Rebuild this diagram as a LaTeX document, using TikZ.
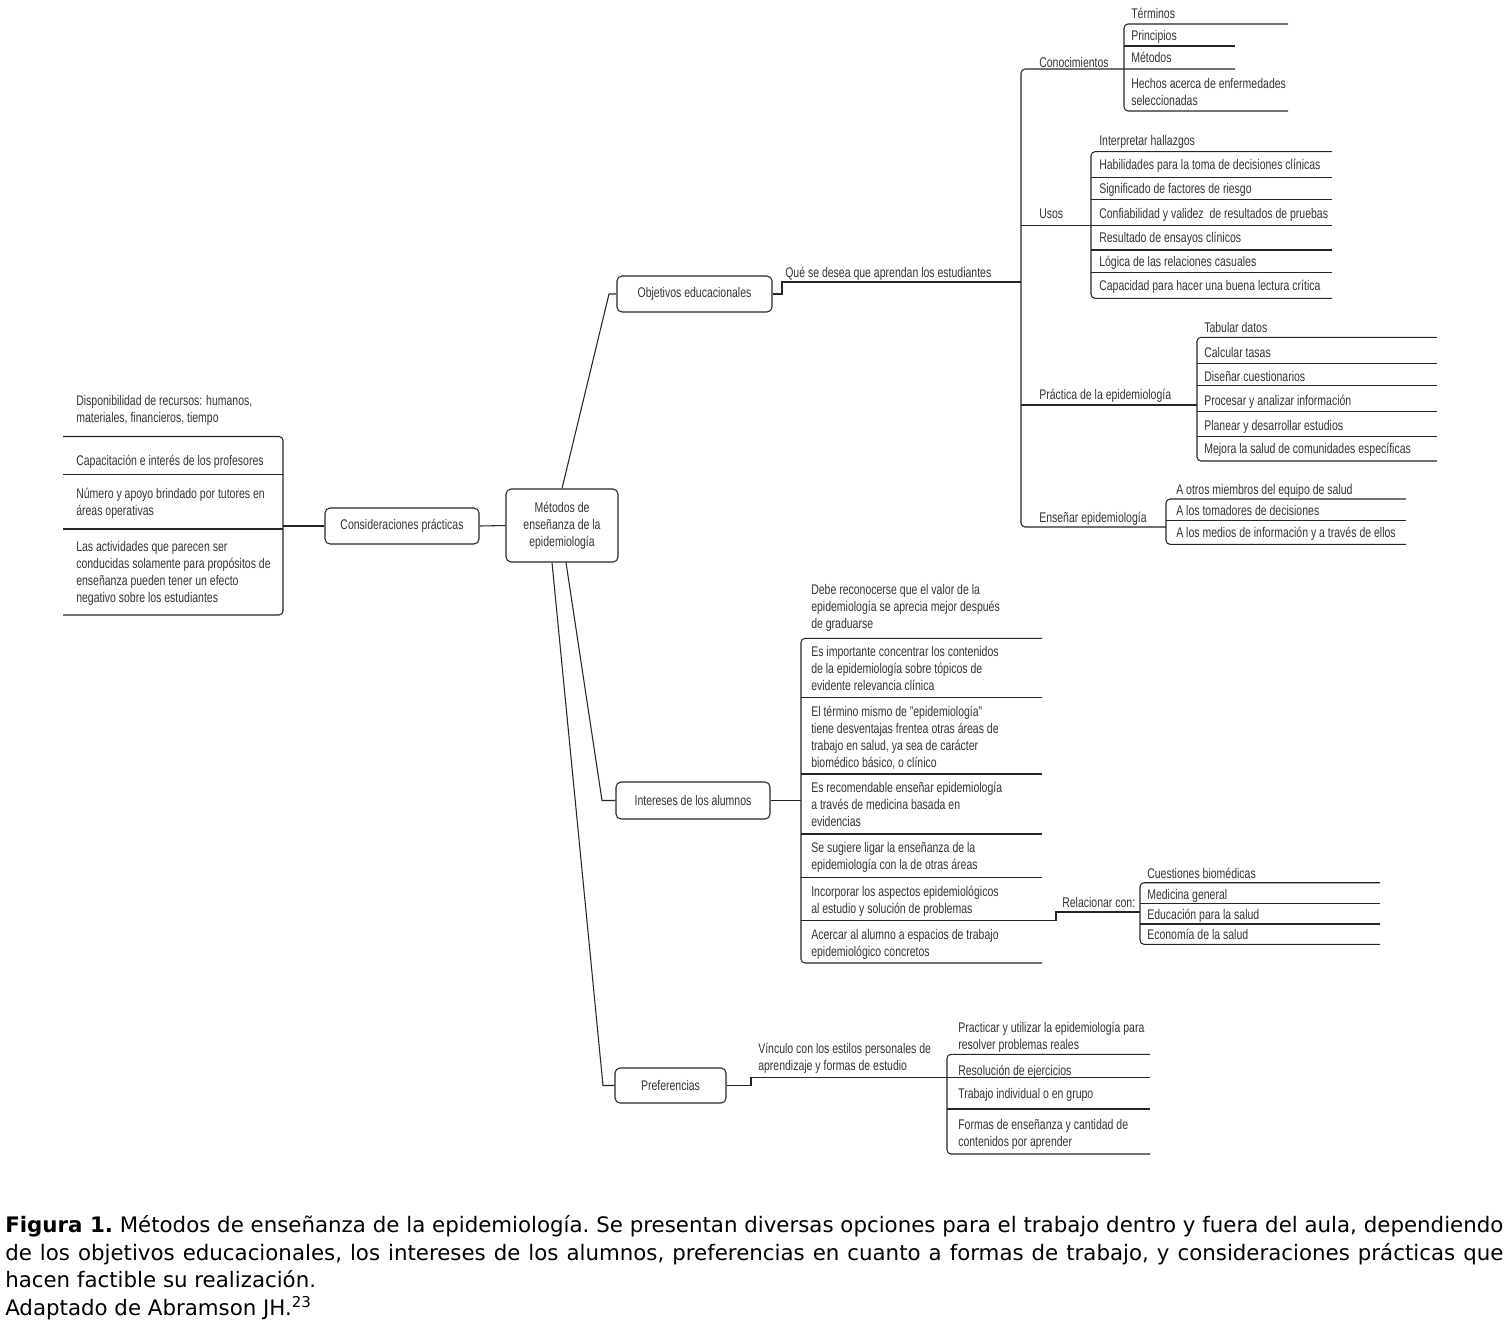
\documentclass[tikz,border=0pt]{standalone}
\usepackage{fontspec}
\setmainfont{Liberation Sans}[FakeStretch=0.75]
\newfontfamily\capfont{DejaVu Sans}
\begin{document}
\begin{tikzpicture}[x=0.75pt,y=-0.75pt,
    every node/.style={font=\fontsize{10.5}{12.75}\selectfont,text=black!80},
    box/.style={draw=black!85,line width=0.8pt,rounded corners=3.75pt,align=center,inner sep=0pt},
    entry/.style={anchor=base west,inner sep=0pt,align=left},
    wire/.style={draw=black!85,line width=0.8pt},
    bracket/.style={wire,rounded corners=3pt}]
\useasboundingbox (0,0) rectangle (1508,1332);

\node[box,minimum width=112*0.75pt,minimum height=73*0.75pt] (cen) at (562,525.5) {Métodos de\\enseñanza de la\\epidemiología};
\node[box,minimum width=154*0.75pt,minimum height=36*0.75pt] (cons) at (402,526) {Consideraciones prácticas};
\node[box,minimum width=155*0.75pt,minimum height=36*0.75pt] (obj) at (694.5,294) {Objetivos educacionales};
\node[box,minimum width=154*0.75pt,minimum height=37*0.75pt] (int) at (693,800.5) {Intereses de los alumnos};
\node[box,minimum width=111*0.75pt,minimum height=35*0.75pt] (pref) at (670.5,1085.5) {Preferencias};

\coordinate (kobj) at (609,294);
\coordinate (kint) at (602,800.5);
\coordinate (kpref) at (603,1085.5);
\draw[wire] (cen.north) -- (kobj) -- (obj.west);
\draw[wire] ([xshift=3pt]cen.south) -- (kint) -- (int.west);
\draw[wire] ([xshift=-7.5pt]cen.south) -- (kpref) -- (pref.west);
\draw[wire] (cons.east) -- (cen.west);

\coordinate (lbr) at (283,526);
\draw[wire] (cons.west) -- (lbr);
\draw[bracket] (63,436.5) -- (283,436.5) -- (283,615) -- (63,615);
\foreach \y in {474.5,529} \draw[wire] (63,\y) -- (283,\y);
\node[entry] (cp1) at (76,422) {Disponibilidad de recursos: humanos,\\materiales, financieros, tiempo};
\node[entry] (cp2) at (76,465) {Capacitación e interés de los profesores};
\node[entry] (cp3) at (76,515) {Número y apoyo brindado por tutores en\\áreas operativas};
\node[entry] (cp4) at (76,602) {Las actividades que parecen ser\\conducidas solamente para propósitos de\\enseñanza pueden tener un efecto\\negativo sobre los estudiantes};

\coordinate (kq) at (1021,282);
\draw[wire] (obj.east) -- (782,294) -- (782,282) -- (kq);
\node[entry] (lq) at (785,277) {Qué se desea que aprendan los estudiantes};
\draw[bracket] (1235,69) -- (1021,69) -- (1021,527) -- (1166,527);
\draw[wire] (1021,225.3) -- (1332,225.3);
\draw[wire] (1021,405) -- (1197,405);
\node[entry] (lcon) at (1039,67) {Conocimientos};
\node[entry] (luso) at (1039,218) {Usos};
\node[entry] (lpra) at (1039,399) {Práctica de la epidemiología};
\node[entry] (lens) at (1039,522) {Enseñar epidemiología};

\draw[bracket] (1288,24) -- (1124,24) -- (1124,111) -- (1288,111);
\draw[wire] (1124,46) -- (1235,46);
\node[entry] (con1) at (1131,18) {Términos};
\node[entry] (con2) at (1131,40) {Principios};
\node[entry] (con3) at (1131,62) {Métodos};
\node[entry] (con4) at (1131,105) {Hechos acerca de enfermedades\\seleccionadas};

\draw[bracket] (1332,151.7) -- (1091,151.7) -- (1091,298.3) -- (1332,298.3);
\foreach \y in {177.3,199.3,250,272.3} \draw[wire] (1091,\y) -- (1332,\y);
\node[entry] (uso1) at (1099,145) {Interpretar hallazgos};
\node[entry] (uso2) at (1099,169) {Habilidades para la toma de decisiones clínicas};
\node[entry] (uso3) at (1099,193) {Significado de factores de riesgo};
\node[entry] (uso4) at (1099,218) {Confiabilidad y validez\ \ de resultados de pruebas};
\node[entry] (uso5) at (1099,242) {Resultado de ensayos clínicos};
\node[entry] (uso6) at (1099,266) {Lógica de las relaciones casuales};
\node[entry] (uso7) at (1099,290) {Capacidad para hacer una buena lectura crítica};

\draw[bracket] (1437,337.3) -- (1197,337.3) -- (1197,461) -- (1437,461);
\foreach \y in {363.3,385.3,411.3,436.7} \draw[wire] (1197,\y) -- (1437,\y);
\node[entry] (pra1) at (1204,332) {Tabular datos};
\node[entry] (pra2) at (1204,357) {Calcular tasas};
\node[entry] (pra3) at (1204,381) {Diseñar cuestionarios};
\node[entry] (pra4) at (1204,405) {Procesar y analizar información};
\node[entry] (pra5) at (1204,430) {Planear y desarrollar estudios};
\node[entry] (pra6) at (1204,453) {Mejora la salud de comunidades específicas};

\draw[bracket] (1406,499) -- (1166,499) -- (1166,544.3) -- (1406,544.3);
\draw[wire] (1166,520.3) -- (1406,520.3);
\node[entry] (ens1) at (1176,494) {A otros miembros del equipo de salud};
\node[entry] (ens2) at (1176,515) {A los tomadores de decisiones};
\node[entry] (ens3) at (1176,537) {A los medios de información y a través de ellos};

\coordinate (kal) at (801,800.5);
\draw[wire] (int.east) -- (kal);
\draw[bracket] (1042,638.3) -- (801,638.3) -- (801,963) -- (1042,963);
\foreach \y in {697.7,774,834,877.7} \draw[wire] (801,\y) -- (1042,\y);
\node[entry] (al1) at (811,628) {Debe reconocerse que el valor de la\\epidemiología se aprecia mejor después\\de graduarse};
\node[entry] (al2) at (811,690) {Es importante concentrar los contenidos\\de la epidemiología sobre tópicos de\\evidente relevancia clínica};
\node[entry] (al3) at (811,767) {El término mismo de "epidemiología"\\tiene desventajas frentea otras áreas de\\trabajo en salud, ya sea de carácter\\biomédico básico, o clínico};
\node[entry] (al4) at (811,826) {Es recomendable enseñar epidemiología\\a través de medicina basada en\\evidencias};
\node[entry] (al5) at (811,869) {Se sugiere ligar la enseñanza de la\\epidemiología con la de otras áreas};
\node[entry] (al6) at (811,913) {Incorporar los aspectos epidemiológicos\\al estudio y solución de problemas};
\node[entry] (al7) at (811,956) {Acercar al alumno a espacios de trabajo\\epidemiológico concretos};

\coordinate (krel) at (1140,912);
\draw[wire] (801,920.7) -- (1056,920.7) -- (1056,912) -- (krel);
\node[entry] (lrel) at (1062,907) {Relacionar con:};
\draw[bracket] (1380,882.7) -- (1140,882.7) -- (1140,944.3) -- (1380,944.3);
\foreach \y in {903.3,924} \draw[wire] (1140,\y) -- (1380,\y);
\node[entry] (rel1) at (1147,878) {Cuestiones biomédicas};
\node[entry] (rel2) at (1147,899) {Medicina general};
\node[entry] (rel3) at (1147,919) {Educación para la salud};
\node[entry] (rel4) at (1147,939) {Economía de la salud};

\coordinate (kvin) at (947,1077.7);
\draw[wire] (pref.east) -- (751,1085.5) -- (751,1077.7) -- (kvin) -- (1150,1077.7);
\node[entry] (lvin) at (758,1070) {Vínculo con los estilos personales de\\aprendizaje y formas de estudio};
\draw[bracket] (1150,1054.3) -- (947,1054.3) -- (947,1154) -- (1150,1154);
\draw[wire] (947,1109) -- (1150,1109);
\node[entry] (pre1) at (958,1049) {Practicar y utilizar la epidemiología para\\resolver problemas reales};
\node[entry] (pre2) at (958,1075) {Resolución de ejercicios};
\node[entry] (pre3) at (958,1098) {Trabajo individual o en grupo};
\node[entry] (pre4) at (958,1146) {Formas de enseñanza y cantidad de\\contenidos por aprender};

\node[anchor=north west,inner sep=0pt,text width=1498*0.75pt,align=justify,text=black,
    font=\capfont\fontsize{16}{20.8}\selectfont\frenchspacing] (cap) at (5,1215)
    {{\bfseries Figura 1.} Métodos de enseñanza de la epidemiología. Se presentan diversas opciones para el trabajo dentro y fuera del aula, dependiendo\linebreak
    de los objetivos educacionales, los intereses de los alumnos, preferencias en cuanto a formas de trabajo, y consideraciones prácticas que\linebreak
    hacen factible su realización.\par
    Adaptado de Abramson JH.\textsuperscript{23}};
\end{tikzpicture}
\end{document}
